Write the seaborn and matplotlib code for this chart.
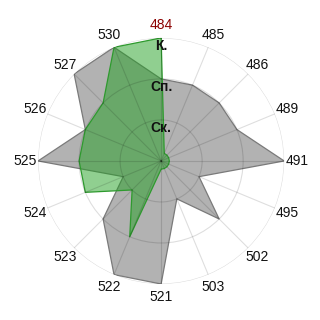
import numpy as np
import pandas as pd
import matplotlib
matplotlib.use("Agg")
import matplotlib.pyplot as plt
import seaborn as sns

categories = ["484", "485", "486", "489", "491", "495", "502", "503",
              "521", "522", "523", "524", "525", "526", "527", "530"]
gray_values = [2, 2, 2, 2, 3, 1, 2, 1, 3, 3, 2, 1, 3, 2, 3, 3]
green_values = [3, 0.2, 0.2, 0.2, 0.2, 0.2, 0.2, 0.2, 0.2, 2, 1, 2, 2, 2, 2, 3]
level_ticks = [1, 2, 3]
level_labels = ["Ск.", "Сп.", "К."]
highlight = "484"

sns.set_theme(style="white")
plt.rcParams["font.family"] = ["Liberation Sans", "DejaVu Sans"]

n = len(categories)
angles = np.linspace(0, 2 * np.pi, n, endpoint=False)
df = pd.DataFrame({"angle": angles, "gray": gray_values, "green": green_values})
closed = pd.concat([df, df.iloc[[0]].assign(angle=2 * np.pi)], ignore_index=True)

fig = plt.figure(figsize=(3.2, 3.2), dpi=100)
ax = fig.add_axes([0.119, 0.1125, 0.769, 0.769], projection="polar")
ax.set_theta_zero_location("N")
ax.set_theta_direction(-1)

ax.fill(closed["angle"], closed["gray"], color="#808080", alpha=0.6, lw=0, zorder=1)
sns.lineplot(data=closed, x="angle", y="gray", sort=False, color="#7a7a7a",
             lw=0.9, ax=ax, zorder=1.5)
ax.fill(closed["angle"], closed["green"], color="#22a022", alpha=0.5, lw=0, zorder=1.6)
sns.lineplot(data=closed, x="angle", y="green", sort=False, color="#2e9a2e",
             lw=0.9, ax=ax, zorder=1.7)

ax.set_ylim(0, 3)
ax.set_yticks(level_ticks)
ax.set_yticklabels([])
ax.set_xticks(angles)
ax.set_xticklabels(categories, fontsize=10)
for lbl in ax.get_xticklabels():
    if lbl.get_text() == highlight:
        lbl.set_color("#8b0000")
    else:
        lbl.set_color("#111111")
ax.tick_params(axis="x", pad=2.5, length=0)
ax.set_xlabel("")
ax.set_ylabel("")

ax.set_axisbelow(False)
ax.grid(True, color="#000000", alpha=0.13, lw=0.8)
for gl in ax.xaxis.get_gridlines() + ax.yaxis.get_gridlines():
    gl.set_zorder(3)
    gl.set_color("#000000")
    gl.set_alpha(0.13)
ax.spines["polar"].set_visible(False)

for r, lab in zip(level_ticks, level_labels):
    ax.text(0, r - 0.19, lab, ha="center", va="center", fontsize=10,
            fontweight="bold", color="#111111", zorder=5)

fig.savefig("out.png", dpi=100)
